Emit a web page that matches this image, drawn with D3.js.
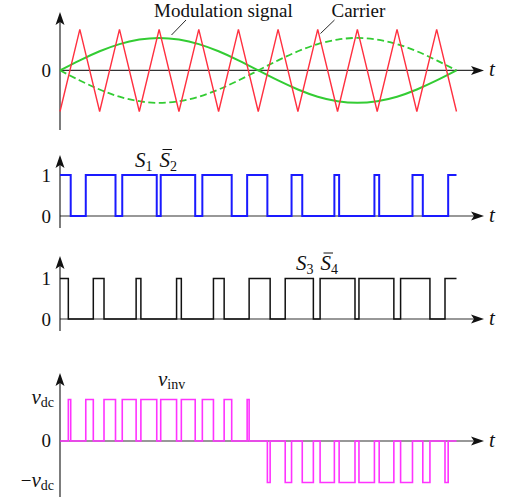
<!DOCTYPE html>
<html lang="en">
<head>
<meta charset="UTF-8">
<title>Unipolar PWM</title>
<script src="https://cdn.jsdelivr.net/npm/d3@7"></script>
<style>
    body { margin: 0; background: #fff; }
    text { font-family: "Liberation Serif", "DejaVu Serif", serif; font-size: 19px; fill: #111; }
    .it { font-style: italic; font-size: 21px; }
</style>
</head>
<body>
<div id="chart"></div>
<script>
// ---------- data (time in carrier periods, 0..10) ----------
// modulation signal
const modT = [0, 0.5, 1, 1.5, 2, 2.5, 3, 3.5, 4, 4.5, 5, 5.5, 6, 6.5, 7, 7.5, 8, 8.5, 9, 9.5, 10];
const modV = [0, 0.245, 0.465, 0.64, 0.75, 0.79, 0.75, 0.64, 0.465, 0.245, 0,
              -0.245, -0.465, -0.64, -0.75, -0.79, -0.75, -0.64, -0.465, -0.245, 0];
// triangle carrier vertices
const carT = [0, 0.5, 1, 1.5, 2, 2.5, 3, 3.5, 4, 4.5, 5, 5.5, 6, 6.5, 7, 7.5, 8, 8.5, 9, 9.5, 10];
const carV = [-1, 1, -1, 1, -1, 1, -1, 1, -1, 1, -1, 1, -1, 1, -1, 1, -1, 1, -1, 1, -1];
// switching states: intervals where the gate signal is 1
const s1High = [[0, 0.27], [0.65, 1.40], [1.57, 2.44], [2.54, 3.41], [3.59, 4.33], [4.72, 5.23],
                [5.84, 6.11], [6.92, 7.04], [7.93, 8.05], [8.89, 9.15], [9.79, 10]];
const s3High = [[0, 0.21], [0.84, 1.11], [1.92, 2.04], [2.94, 3.06], [3.87, 4.14], [4.77, 5.30],
                [5.68, 6.39], [6.56, 7.44], [7.54, 8.42], [8.59, 9.33], [9.71, 10]];
const tickBin = ["0", "1"];

const W = 505, H = 497;
const svg = d3.select("#chart").append("svg").attr("width", W).attr("height", H);

// ---------- scales ----------
const x = d3.scaleLinear().domain([0, 10]).range([60, 456.5]);
const xEnd = 484;
const y1 = d3.scaleLinear().domain([-1, 1]).range([111.5, 29.3]);
const y2 = d3.scaleLinear().domain([0, 1]).range([216, 175]);
const y3 = d3.scaleLinear().domain([0, 1]).range([319, 278.5]);
const y4 = d3.scaleLinear().domain([-1, 1]).range([482.5, 399.5]);

// ---------- helpers ----------
function levelAt(intervals, t) {
    return intervals.some(([a, b]) => t >= a && t < b) ? 1 : 0;
}
function stepSeries(edges, fn) {
    const pts = edges.slice(0, -1).map((e, i) => [e, fn((e + edges[i + 1]) / 2)]);
    pts.push([edges[edges.length - 1], pts[pts.length - 1][1]]);
    return pts;
}
const edgesOf = (...lists) => Array.from(new Set([0, 10, ...lists.flat(2)])).sort((a, b) => a - b);

function arrowHead(g, tx, ty, dir) {
    // stealth-like arrow, dir "r" or "u"
    const p = dir === "r"
        ? `M${tx},${ty} L${tx - 13},${ty - 4.5} L${tx - 10},${ty} L${tx - 13},${ty + 4.5} Z`
        : `M${tx},${ty} L${tx - 4.5},${ty + 13} L${tx},${ty + 10} L${tx + 4.5},${ty + 13} Z`;
    g.append("path").attr("d", p).attr("fill", "#111");
}

function drawAxes(y, yTop, yBot) {
    const g = svg.append("g");
    const y0 = y(0);
    g.append("line").attr("x1", x(0)).attr("x2", xEnd - 6).attr("y1", y0).attr("y2", y0)
        .attr("stroke", "#333").attr("stroke-width", 1.1);
    g.append("line").attr("x1", x(0)).attr("x2", x(0)).attr("y1", yBot).attr("y2", yTop + 6)
        .attr("stroke", "#111").attr("stroke-width", 1.1);
    arrowHead(g, xEnd, y0, "r");
    arrowHead(g, x(0), yTop, "u");
    g.append("text").attr("class", "it").attr("x", xEnd + 5).attr("y", y0 + 6).text("t");
    return g;
}

function leftTicks(y, values, labels) {
    const ax = d3.axisLeft(y).tickValues(values).tickSize(0).tickPadding(9)
        .tickFormat((d, i) => labels[i]);
    const g = svg.append("g").attr("transform", `translate(${x(0)},0)`).call(ax);
    g.select(".domain").remove();
    g.attr("font-family", null).attr("font-size", null);
    g.selectAll("text").style("fill", "#111");
}

// ---------- panel 1: modulation + carrier ----------
drawAxes(y1, 12, 130);
leftTicks(y1, [0], ["0"]);

const modPts = modT.map((t, i) => [t, modV[i]]);
const lineMod = d3.line().x(d => x(d[0])).y(d => y1(d[1])).curve(d3.curveNatural);
svg.append("path").attr("d", lineMod(modPts)).attr("fill", "none")
    .attr("stroke", "#33cc33").attr("stroke-width", 2);
svg.append("path").attr("d", lineMod(modPts.map(d => [d[0], -d[1]]))).attr("fill", "none")
    .attr("stroke", "#33cc33").attr("stroke-width", 1.8).attr("stroke-dasharray", "7,3.5");

const lineCar = d3.line().x(d => x(d[0])).y(d => y1(d[1]));
svg.append("path").attr("d", lineCar(carT.map((t, i) => [t, carV[i]]))).attr("fill", "none")
    .attr("stroke", "#ff3040").attr("stroke-width", 1.4).attr("stroke-linejoin", "miter");

svg.append("text").attr("x", 154).attr("y", 17).text("Modulation signal");
svg.append("line").attr("x1", 186).attr("y1", 20).attr("x2", 171.5).attr("y2", 35)
    .attr("stroke", "#111").attr("stroke-width", 0.9);
svg.append("text").attr("x", 331.5).attr("y", 17).text("Carrier");
svg.append("line").attr("x1", 334.5).attr("y1", 20).attr("x2", 320.5).attr("y2", 33.5)
    .attr("stroke", "#111").attr("stroke-width", 0.9);

// ---------- switching label helper ----------
function pairLabel(px, py, a, b) {
    const t = svg.append("text").attr("x", px).attr("y", py);
    t.append("tspan").attr("class", "it").text("S");
    t.append("tspan").attr("font-size", 14).attr("dy", 4).text(a);
    t.append("tspan").attr("class", "it").attr("dy", -4).attr("dx", 7).text("S");
    t.append("tspan").attr("font-size", 14).attr("dy", 4).text(b);
    // overbar over the second S
    const n = t.node();
    const st = n.getStartPositionOfChar(2), en = n.getEndPositionOfChar(2);
    svg.append("line").attr("x1", st.x + 3).attr("x2", en.x + 2)
        .attr("y1", py - 17).attr("y2", py - 17).attr("stroke", "#111").attr("stroke-width", 1);
}

// ---------- panel 2: S1 S2bar ----------
drawAxes(y2, 155, 228);
leftTicks(y2, [0, 1], tickBin);
const lineS2 = d3.line().x(d => x(d[0])).y(d => y2(d[1])).curve(d3.curveStepAfter);
svg.append("path").attr("d", lineS2(stepSeries(edgesOf(s1High), t => levelAt(s1High, t))))
    .attr("fill", "none").attr("stroke", "#1a1aff").attr("stroke-width", 2);
pairLabel(135, 166.5, "1", "2");

// ---------- panel 3: S3 S4bar ----------
drawAxes(y3, 256, 331);
leftTicks(y3, [0, 1], tickBin);
const lineS3 = d3.line().x(d => x(d[0])).y(d => y3(d[1])).curve(d3.curveStepAfter);
svg.append("path").attr("d", lineS3(stepSeries(edgesOf(s3High), t => levelAt(s3High, t))))
    .attr("fill", "none").attr("stroke", "#111").attr("stroke-width", 1.5);
pairLabel(296, 270, "3", "4");

// ---------- panel 4: inverter voltage ----------
drawAxes(y4, 373, 497);
const vPts = stepSeries(edgesOf(s1High, s3High), t => levelAt(s1High, t) - levelAt(s3High, t));
const lineV = d3.line().x(d => x(d[0])).y(d => y4(d[1])).curve(d3.curveStepAfter);
svg.append("path").attr("d", lineV(vPts)).attr("fill", "none")
    .attr("stroke", "#ff33ff").attr("stroke-width", 1.6);

function subLabel(px, py, pre, main, sub, anchor) {
    const t = svg.append("text").attr("x", px).attr("y", py).attr("text-anchor", anchor);
    if (pre) t.append("tspan").text(pre);
    t.append("tspan").attr("class", "it").text(main);
    t.append("tspan").attr("font-size", 14).attr("dy", 3).text(sub);
}
subLabel(54, y4(1) + 4, "", "v", "dc", "end");
svg.append("text").attr("x", 51).attr("y", y4(0) + 6).attr("text-anchor", "end").text("0");
subLabel(54, y4(-1) + 4, "\u2212", "v", "dc", "end");
subLabel(158, 386, "", "v", "inv", "start");
</script>
</body>
</html>
